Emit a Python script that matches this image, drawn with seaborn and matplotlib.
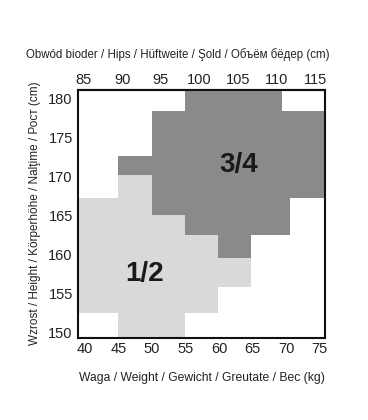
import numpy as np
import pandas as pd
import matplotlib
matplotlib.use("Agg")
import matplotlib.pyplot as plt
from matplotlib.colors import ListedColormap
import seaborn as sns

sns.set_style("white")
plt.rcParams["font.family"] = ["Liberation Sans", "DejaVu Sans"]

# band edges: weight (kg) columns and height (cm) rows
weight_edges = [39.0, 44.9, 50.0, 54.9, 59.9, 64.75, 69.45, 70.65, 75.8]
height_edges = [149.4, 152.55, 155.9, 159.6, 162.6, 165.1, 167.35, 170.2, 172.7, 178.5, 181.2]

# size per cell, rows from the bottom up: 0 = none, 1 = "1/2", 2 = "3/4"
zones = [
    [0, 1, 1, 0, 0, 0, 0, 0],
    [1, 1, 1, 1, 0, 0, 0, 0],
    [1, 1, 1, 1, 1, 0, 0, 0],
    [1, 1, 1, 1, 2, 0, 0, 0],
    [1, 1, 1, 2, 2, 2, 2, 0],
    [1, 1, 2, 2, 2, 2, 2, 0],
    [0, 1, 2, 2, 2, 2, 2, 2],
    [0, 2, 2, 2, 2, 2, 2, 2],
    [0, 0, 2, 2, 2, 2, 2, 2],
    [0, 0, 0, 2, 2, 2, 0, 0],
]
size_labels = ["1/2", "3/4"]

weight_ticks = [40, 45, 50, 55, 60, 65, 70, 75]
height_ticks = [150, 155, 160, 165, 170, 175, 180]
hip_ticks = [85, 90, 95, 100, 105, 110, 115]

# one point per cell, weighted by its size code
we = np.array(weight_edges)
he = np.array(height_edges)
w_mid = (we[:-1] + we[1:]) / 2
h_mid = (he[:-1] + he[1:]) / 2
cells = []
for i, row in enumerate(zones):
    for j, z in enumerate(row):
        cells.append({"weight": w_mid[j], "height": h_mid[i], "zone": z})
df = pd.DataFrame(cells)

fig = plt.figure(figsize=(3.68, 4.2), dpi=100)
ax = fig.add_axes([0.2128, 0.1964, 0.6704, 0.5905])

sns.histplot(data=df, x="weight", y="height", weights="zone",
             bins=[weight_edges, height_edges],
             cmap=ListedColormap(["#d9d9d9", "#8a8a8a"]),
             vmin=0.5, vmax=2.5, ax=ax)

ax.set_xlim(weight_edges[0], weight_edges[-1])
ax.set_ylim(height_edges[0], height_edges[-1])

ax.text(48.94, 157.6, size_labels[0], ha="center", va="center",
        fontsize=20, fontweight="bold", color="#1a1a1a")
ax.text(62.95, 171.5, size_labels[1], ha="center", va="center",
        fontsize=20, fontweight="bold", color="#1a1a1a")

narrow = ["Liberation Sans Narrow", "Liberation Sans", "DejaVu Sans"]

ax.set_xticks(weight_ticks)
ax.set_yticks(height_ticks)
ax.tick_params(axis="x", length=0, pad=3.5, labelsize=10.5, colors="#222222")
ax.tick_params(axis="y", length=0, pad=4, labelsize=10.5, colors="#222222")
for lab in ax.get_xticklabels() + ax.get_yticklabels():
    lab.set_family(narrow)

ax.set_xlabel("Waga / Weight / Gewicht / Greutate / Bec (kg)",
              fontsize=8.7, labelpad=11, color="#222222")
ax.set_ylabel("Wzrost / Height / Körperhöhe / Nalţime / Рост (cm)",
              fontsize=8.5, labelpad=5, color="#222222")

for s in ax.spines.values():
    s.set_visible(True)
    s.set_color("#111111")
    s.set_linewidth(1.5)


def kg_to_hip(k):
    return 85 + (np.asarray(k) - 39.75) / 1.1557


def hip_to_kg(h):
    return 39.75 + (np.asarray(h) - 85) * 1.1557


top = ax.secondary_xaxis("top", functions=(kg_to_hip, hip_to_kg))
top.set_xticks(hip_ticks)
top.tick_params(length=0, pad=2, labelsize=10.5, colors="#222222")
for lab in top.get_xticklabels():
    lab.set_family(narrow)
top.spines["top"].set_linewidth(1.5)
top.spines["top"].set_color("#111111")
top.set_xlabel("Obwód bioder / Hips / Hüftweite / Şold / Объём бёдер (cm)",
               fontsize=8.3, labelpad=10.5, color="#222222", x=0.404)

fig.savefig("out.png", dpi=100, facecolor="white")
